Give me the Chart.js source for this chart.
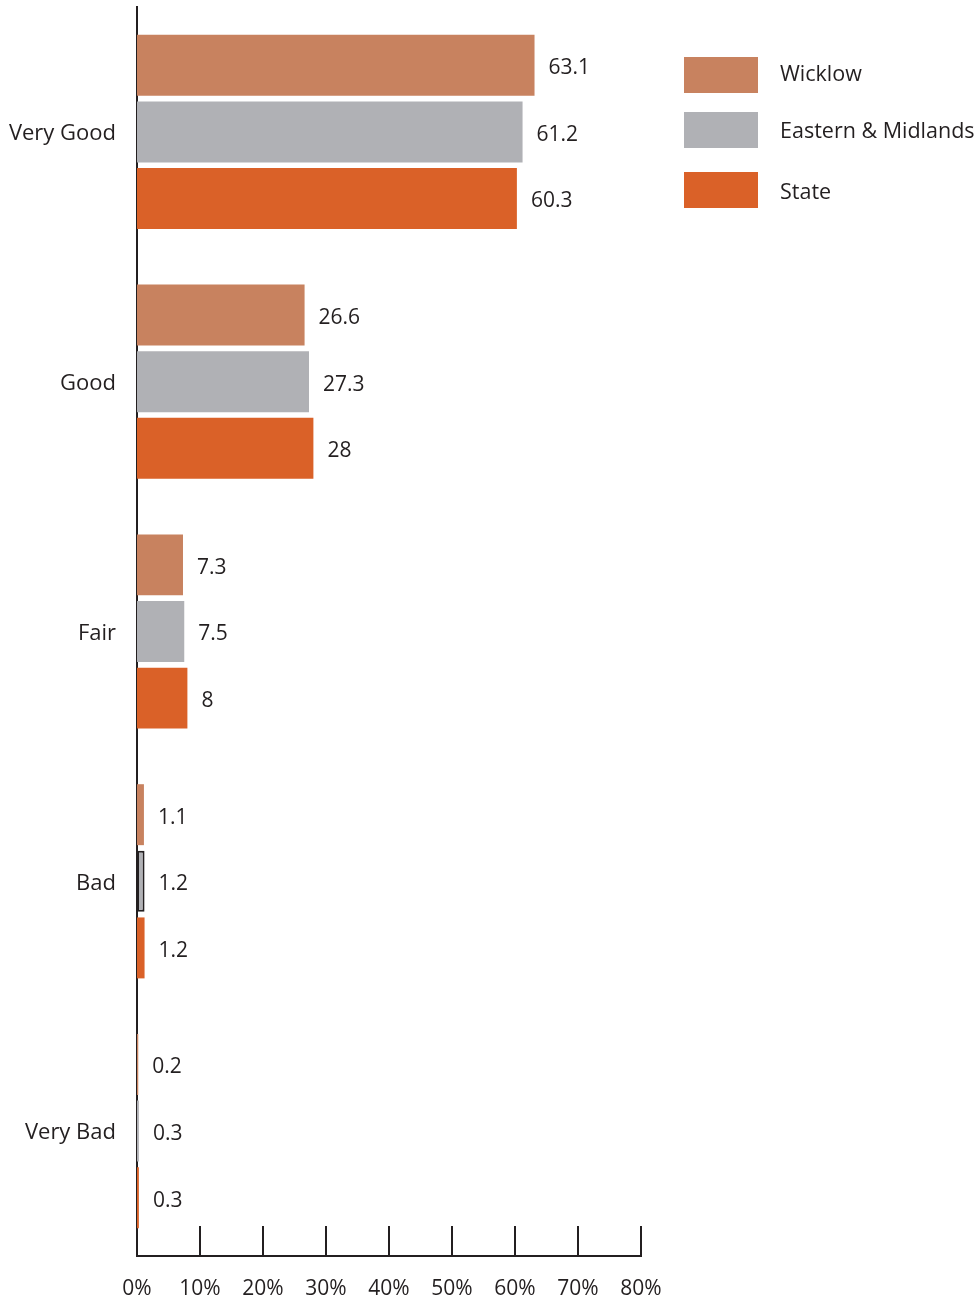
<!DOCTYPE html>
<html>
<head>
<meta charset="utf-8">
<script src="https://cdn.jsdelivr.net/npm/chart.js@4"></script>
<style>
  html, body { margin: 0; padding: 0; background: #fff; }
  #wrap { width: 976px; height: 1301px; position: relative; }
</style>
</head>
<body>
<div id="wrap"><canvas id="healthChart"></canvas></div>
<script>
// Data
const categories = ["Very Good", "Good", "Fair", "Bad", "Very Bad"];
const seriesNames = ["Wicklow", "Eastern & Midlands", "State"];
const wicklow = [63.1, 26.6, 7.3, 1.1, 0.2];
const eastern = [61.2, 27.3, 7.5, 1.2, 0.3];
const state = [60.3, 28, 8, 1.2, 0.3];
const xTicks = [0, 10, 20, 30, 40, 50, 60, 70, 80];

const colors = ["#c8825f", "#b0b1b5", "#da6128"];
const ink = "#231f20";
const fontFamily = "'Open Sans', 'Noto Sans', sans-serif";

// value labels to the right of each bar
const valueLabels = {
  id: "valueLabels",
  afterDatasetsDraw(chart) {
    const c = chart.ctx;
    c.save();
    c.font = "21px " + fontFamily;
    c.fillStyle = ink;
    c.textBaseline = "middle";
    c.textAlign = "left";
    chart.data.datasets.forEach((ds, i) => {
      chart.getDatasetMeta(i).data.forEach((bar, j) => {
        c.fillText(String(ds.data[j]), bar.x + 14, bar.y + 3);
      });
    });
    c.restore();
  }
};

// tick marks standing up from the x axis
const axisTicks = {
  id: "axisTicks",
  afterDraw(chart) {
    const c = chart.ctx;
    const x = chart.scales.x;
    const bottom = chart.chartArea.bottom;
    c.save();
    c.strokeStyle = ink;
    c.lineWidth = 2;
    xTicks.forEach(v => {
      if (v === 0) return;
      const px = Math.round(x.getPixelForValue(v));
      c.beginPath();
      c.moveTo(px, bottom);
      c.lineTo(px, bottom - 30);
      c.stroke();
    });
    c.restore();
  }
};

// legend at the top right
const sideLegend = {
  id: "sideLegend",
  afterDraw(chart) {
    const c = chart.ctx;
    const rows = [57, 112, 172];
    const textY = [75, 132, 193];
    c.save();
    c.font = "21.5px " + fontFamily;
    c.textBaseline = "middle";
    chart.data.datasets.forEach((ds, i) => {
      c.fillStyle = ds.backgroundColor;
      c.fillRect(684, rows[i], 74, 36);
      c.fillStyle = ink;
      c.fillText(ds.label, 780, textY[i]);
    });
    c.restore();
  }
};

const ctx = document.getElementById("healthChart").getContext("2d");

new Chart(ctx, {
  type: "bar",
  data: {
    labels: categories,
    datasets: [
      { label: seriesNames[0], data: wicklow, backgroundColor: colors[0] },
      {
        label: seriesNames[1], data: eastern, backgroundColor: colors[1],
        borderColor: ink, borderWidth: [0, 0, 0, 2, 0], borderSkipped: false
      },
      { label: seriesNames[2], data: state, backgroundColor: colors[2] }
    ]
  },
  options: {
    indexAxis: "y",
    responsive: true,
    maintainAspectRatio: false,
    animation: false,
    devicePixelRatio: 1,
    categoryPercentage: 0.8,
    barPercentage: 0.915,
    layout: { padding: { top: 7, right: 335, left: 0, bottom: 0 } },
    plugins: {
      legend: { display: false },
      tooltip: { enabled: false }
    },
    scales: {
      x: {
        min: 0,
        max: 80,
        afterBuildTicks: s => { s.ticks = xTicks.map(v => ({ value: v })); },
        afterFit: s => { s.height = 45; },
        grid: { display: false },
        border: { color: ink, width: 2 },
        ticks: {
          padding: 12,
          color: ink,
          font: { family: fontFamily, size: 21 },
          callback: v => v + "%",
          maxRotation: 0
        }
      },
      y: {
        // fixed width, and no extra room above the first label
        afterFit: s => { s.width = 137; s.paddingTop = 0; s.paddingBottom = 0; },
        grid: { display: false },
        border: { color: ink, width: 2 },
        ticks: {
          padding: 13,
          labelOffset: 2,
          color: ink,
          font: { family: fontFamily, size: 22 }
        }
      }
    }
  },
  plugins: [valueLabels, axisTicks, sideLegend]
});
</script>
</body>
</html>
